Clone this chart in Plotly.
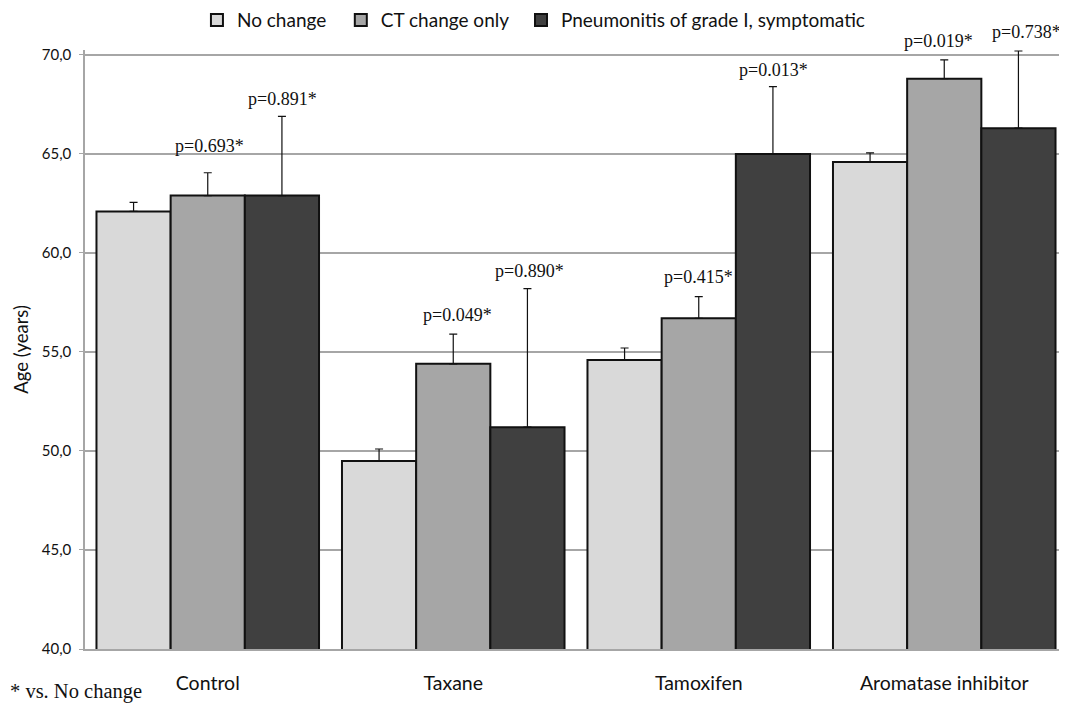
import plotly.graph_objects as go

categories = ["Control", "Taxane", "Tamoxifen", "Aromatase inhibitor"]
series_names = ["No change", "CT change only", "Pneumonitis of grade I, symptomatic"]
no_change = [62.1, 49.5, 54.6, 64.6]
no_change_err = [0.45, 0.6, 0.6, 0.45]
ct_change = [62.9, 54.4, 56.7, 68.8]
ct_change_err = [1.15, 1.5, 1.1, 0.95]
pneumonitis = [62.9, 51.2, 65.0, 66.3]
pneumonitis_err = [4.0, 7.0, 3.4, 3.9]
ct_pvalues = ["p=0.693*", "p=0.049*", "p=0.415*", "p=0.019*"]
pn_pvalues = ["p=0.891*", "p=0.890*", "p=0.013*", "p=0.738*"]
y_ticks = [40, 45, 50, 55, 60, 65, 70]

# style only: label fine placement (px) and legend box positions (paper x)
ct_label_shift = [(2, 27), (4, 19), (0, 20), (-6, 19)]
pn_label_shift = [(1, 17), (2, 18), (1, 17), (8, 19)]
legend_x = [0.1140, 0.2605, 0.4440]
legend_ids = ["legend", "legend2", "legend3"]

colors = ["#d9d9d9", "#a6a6a6", "#404040"]
values = [no_change, ct_change, pneumonitis]
errors = [no_change_err, ct_change_err, pneumonitis_err]

SANS = "Lato, Open Sans, sans-serif"
SERIF = "Liberation Serif, Times New Roman, serif"

fig = go.Figure()
for name, vals, errs, col, lg in zip(series_names, values, errors, colors, legend_ids):
    fig.add_trace(go.Bar(
        x=categories, y=vals, name=name, legend=lg,
        marker=dict(color=col, line=dict(color="#111111", width=2)),
        error_y=dict(type="data", symmetric=False, array=errs,
                     arrayminus=[0] * len(errs), color="#111111",
                     thickness=1.2, width=4),
        cliponaxis=False,
    ))

bargap = 0.0935
bw = (1 - bargap) / 3
annotations = []
for i in range(len(categories)):
    for k, (vals, errs, labels, shifts) in enumerate([
            (ct_change, ct_change_err, ct_pvalues, ct_label_shift),
            (pneumonitis, pneumonitis_err, pn_pvalues, pn_label_shift)]):
        annotations.append(dict(
            x=i + k * bw, xref="x", y=vals[i] + errs[i], yref="y",
            text=labels[i], showarrow=False, yanchor="middle",
            xshift=shifts[i][0], yshift=shifts[i][1],
            font=dict(family=SERIF, size=18, color="#111111"),
        ))
annotations.append(dict(
    x=-0.078, xref="paper", y=-0.0715, yref="paper", xanchor="left", yanchor="middle",
    text="* vs. No change", showarrow=False,
    font=dict(family=SERIF, size=20.5, color="#111111"),
))

legend_style = dict(orientation="h", y=1.018, xanchor="left", yanchor="bottom",
                    font=dict(family=SANS, size=19, color="#111111"),
                    itemwidth=30, bgcolor="rgba(0,0,0,0)")

fig.update_layout(
    width=1059, height=697,
    margin=dict(l=77, r=0, t=42, b=56, autoexpand=False),
    paper_bgcolor="white", plot_bgcolor="white",
    barmode="group", bargap=bargap, bargroupgap=0,
    separators=",.",
    font=dict(family=SANS, size=16, color="#111111"),
    legend=dict(x=legend_x[0], **legend_style),
    legend2=dict(x=legend_x[1], **legend_style),
    legend3=dict(x=legend_x[2], **legend_style),
    annotations=annotations,
    showlegend=True,
)
fig.update_xaxes(
    range=[-0.5, 3.5], showgrid=False, showline=True, linecolor="#a6a6a6", linewidth=1.5,
    ticks="", ticklabelstandoff=16, tickfont=dict(family=SANS, size=19.5, color="#111111"),
)
fig.update_yaxes(
    range=[40, 70.25], tickvals=y_ticks, tickformat=".1f",
    showgrid=True, gridcolor="#a6a6a6", gridwidth=1.5,
    showline=True, linecolor="#a6a6a6", linewidth=1.5,
    ticks="outside", ticklen=4, tickcolor="#a6a6a6", ticklabelstandoff=5,
    tickfont=dict(family=SANS, size=15, color="#111111"),
    title=dict(text="Age (years)", font=dict(family=SANS, size=18.5, color="#111111"), standoff=8),
    zeroline=False,
)

fig.write_html("out.html")
